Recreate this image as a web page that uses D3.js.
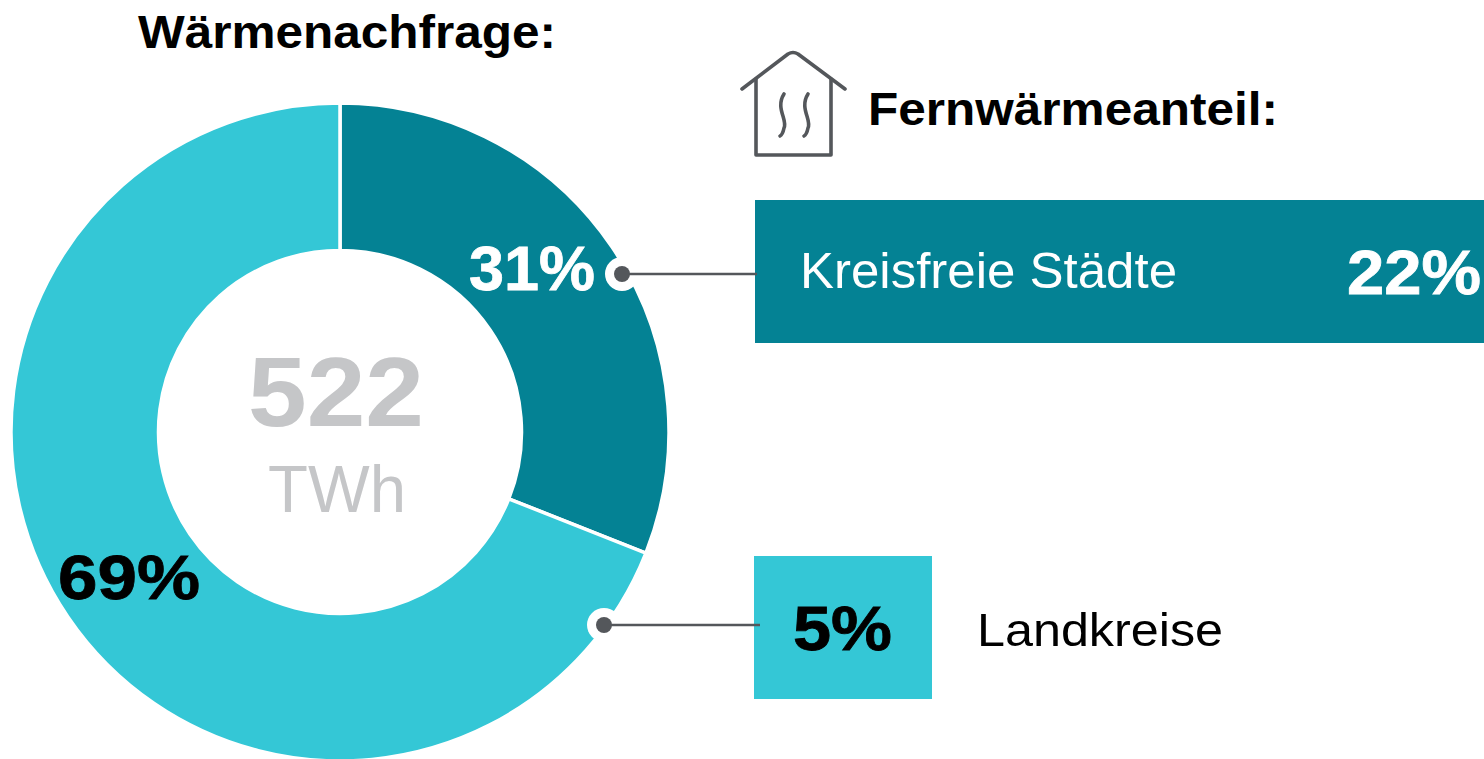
<!DOCTYPE html>
<html><head><meta charset="utf-8">
<script src="https://cdn.jsdelivr.net/npm/d3@7"></script>
<style>html,body{margin:0;padding:0;background:#fff;overflow:hidden}svg{display:block}text{font-family:"Liberation Sans",Arial,sans-serif}</style>
</head><body><div id="chart"></div>
<script>
const regions = ["Kreisfreie Städte", "Landkreise"];
const demandShare = [31, 69];
const districtShare = [22, 5];
const totalValue = "522";
const totalUnit = "TWh";
const titleLeft = "Wärmenachfrage:";
const titleRight = "Fernwärmeanteil:";
const colors = ["#048294", "#34c7d6"];
const grey = "#54575b";

const svg = d3.select("#chart").append("svg").attr("width",1484).attr("height",759);
const cx=340, cy=432, R=329, r=181.5;
const pie = d3.pie().sort(null).value(d=>d)(demandShare);
const arc = d3.arc().innerRadius(r).outerRadius(R);
const g = svg.append("g").attr("transform",`translate(${cx},${cy})`);
g.selectAll("path").data(pie).join("path").attr("d",arc)
  .attr("fill",(d,i)=>colors[i]).attr("stroke","#fff").attr("stroke-width",3.5);

function T(x,y,s,size,fill,weight,len){
  const t = svg.append("text").attr("x",x).attr("y",y).text(s).attr("font-size",size)
   .attr("fill",fill).attr("font-weight",weight||"normal");
  if(len) t.attr("textLength",len).attr("lengthAdjust","spacingAndGlyphs");
  return t;
}
const heavy = (t,c,w)=>t.attr("stroke",c).attr("stroke-width",w);
T(138,48,titleLeft,46,"#000","bold",418);
T(868,125,titleRight,46,"#000","bold",410);
T(248,426,totalValue,98,"#c5c6c8","bold",176);
T(268,512,totalUnit,66,"#c5c6c8","normal",138);
heavy(T(469,290,demandShare[0]+"%",63,"#fff","bold",126),"#fff",.8);
heavy(T(58,599,demandShare[1]+"%",63,"#000","bold",142),"#000",.8);

const x = d3.scaleLinear().domain([0,5]).range([0,178]);
const bars = [{y:200,h:143,x0:755},{y:556,h:143,x0:754}];
svg.selectAll("rect.bar").data(districtShare).join("rect").attr("class","bar")
  .attr("x",(d,i)=>bars[i].x0).attr("y",(d,i)=>bars[i].y).attr("height",(d,i)=>bars[i].h)
  .attr("width",d=>x(d)).attr("fill",(d,i)=>colors[i]);

T(800,288,regions[0],50,"#fff","normal",377);
heavy(T(1347,294,districtShare[0]+"%",63,"#fff","bold",134),"#fff",.8);
heavy(T(793,650,districtShare[1]+"%",63,"#000","bold",99),"#000",.8);
T(977,646,regions[1],47,"#000","normal",246);

// leader dots and lines
[[622,274,757],[604,625,760]].forEach(([a,b,e])=>{
  svg.append("circle").attr("cx",a).attr("cy",b).attr("r",17).attr("fill","#fff");
  svg.append("line").attr("x1",a).attr("x2",e).attr("y1",b).attr("y2",b).attr("stroke",grey).attr("stroke-width",2.6);
  svg.append("circle").attr("cx",a).attr("cy",b).attr("r",8).attr("fill",grey);
});

// house icon
const icon = svg.append("g").attr("fill","none").attr("stroke",grey).attr("stroke-width",3.6)
  .attr("stroke-linecap","round").attr("stroke-linejoin","round");
icon.append("path").attr("d","M742 89L788 54Q793 51 798 54L845 89");
icon.append("path").attr("d","M756 79V155H831V79");
icon.append("path").attr("d","M784 94C775 108 788 120 784 128C783 133 782 135 780 136");
icon.append("path").attr("d","M808 94C799 108 812 120 808 128C807 133 806 135 804 136");
</script></body></html>
